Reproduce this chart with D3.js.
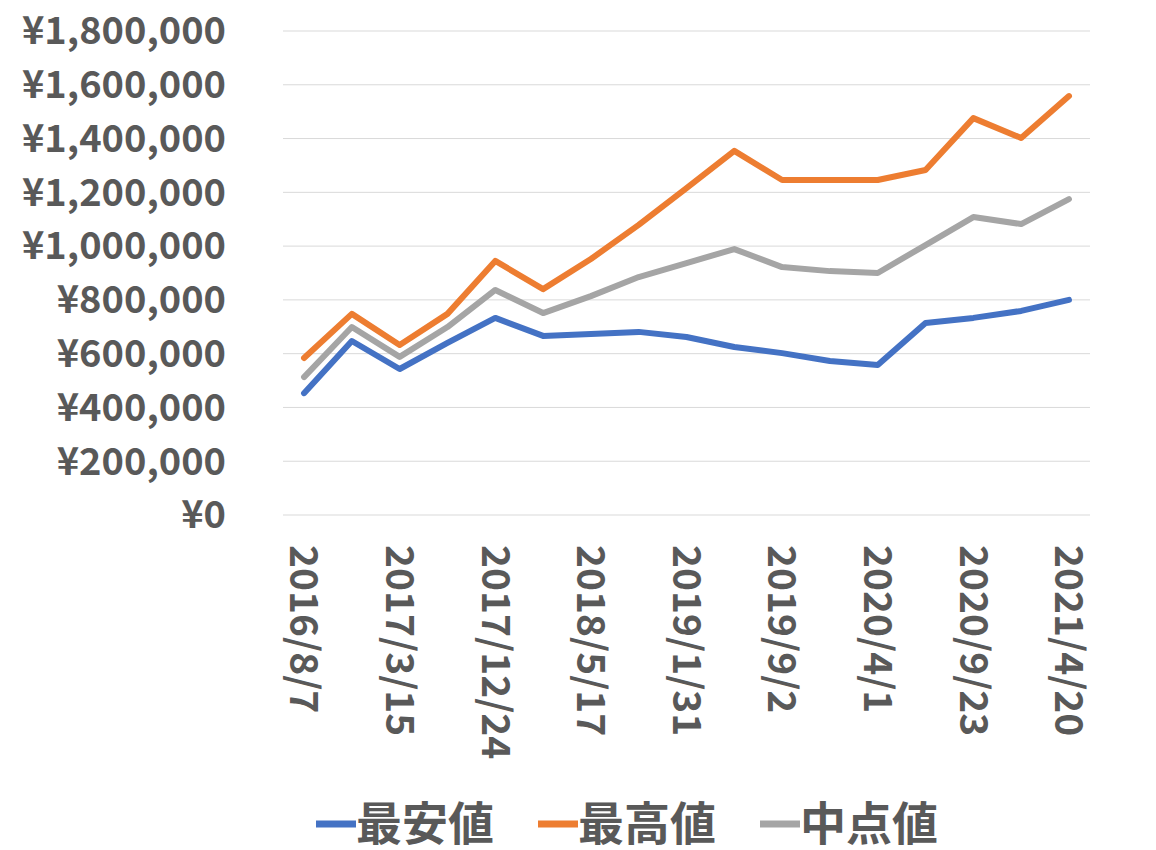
<!DOCTYPE html>
<html><head><meta charset="utf-8">
<script src="https://cdn.jsdelivr.net/npm/d3@7"></script>
<style>body{margin:0;background:#fff}</style></head>
<body><svg id="c" width="1156" height="850"></svg>
<script>
const labels = ["2016/8/7","","2017/3/15","","2017/12/24","","2018/5/17","","2019/1/31","","2019/9/2","","2020/4/1","","2020/9/23","","2021/4/20"];
const minV = [453000,647000,543000,640000,733000,666000,673000,681000,662000,625000,602000,573000,558000,714000,733000,759000,800000];
const maxV = [584000,748000,632000,748000,945000,840000,952000,1079000,1216000,1354000,1246000,1246000,1246000,1283000,1476000,1402000,1558000];
const midV = [513000,699000,588000,699000,837000,751000,814000,885000,937000,989000,922000,907000,900000,1004000,1108000,1082000,1175000];
const yTicks = [0,200000,400000,600000,800000,1000000,1200000,1400000,1600000,1800000];
const series = [{name:"最安値",v:minV,c:"#4472c4"},{name:"最高値",v:maxV,c:"#ed7d31"},{name:"中点値",v:midV,c:"#a5a5a5"}];
const svg = d3.select("#c");
const L=283,R=1090,T=31,B=515;
const x = d3.scalePoint().domain(d3.range(labels.length)).range([L,R]).padding(0.44);
const y = d3.scaleLinear().domain([0,1800000]).range([B,T]);
const font="'Noto Sans CJK JP','Noto Sans',sans-serif";
svg.append("g").selectAll("line").data(yTicks).join("line")
 .attr("x1",L).attr("x2",R).attr("y1",d=>y(d)).attr("y2",d=>y(d)).attr("stroke","#d9d9d9").attr("stroke-width",1);
svg.append("g").selectAll("text").data(yTicks).join("text")
 .attr("x",226).attr("y",d=>y(d)).attr("dy","0.35em").attr("text-anchor","end")
 .attr("font-family",font).attr("font-weight","bold").attr("font-size",38).attr("fill","#595959")
 .text(d=>"¥"+d3.format(",")(d));
svg.append("g").selectAll("text").data(labels.map((l,i)=>({l,i})).filter(d=>d.l)).join("text")
 .attr("transform",d=>`translate(${x(d.i)},545) rotate(90)`).attr("dy","0.35em")
 .attr("font-family",font).attr("font-weight","bold").attr("font-size",39).attr("fill","#595959")
 .text(d=>d.l);
const line=d3.line().x((d,i)=>x(i)).y(d=>y(d));
series.forEach(s=>svg.append("path").attr("d",line(s.v)).attr("fill","none").attr("stroke",s.c).attr("stroke-width",6).attr("stroke-linejoin","round").attr("stroke-linecap","round"));
const lg=svg.append("g");
const lx=[316,538,760];
series.forEach((s,i)=>{
 lg.append("line").attr("x1",lx[i]).attr("x2",lx[i]+40).attr("y1",824).attr("y2",824).attr("stroke",s.c).attr("stroke-width",7);
 lg.append("text").attr("x",lx[i]+40).attr("y",824).attr("dy","0.35em").attr("font-family",font).attr("font-weight","bold").attr("font-size",46).attr("fill","#595959").text(s.name);
});
</script></body></html>
